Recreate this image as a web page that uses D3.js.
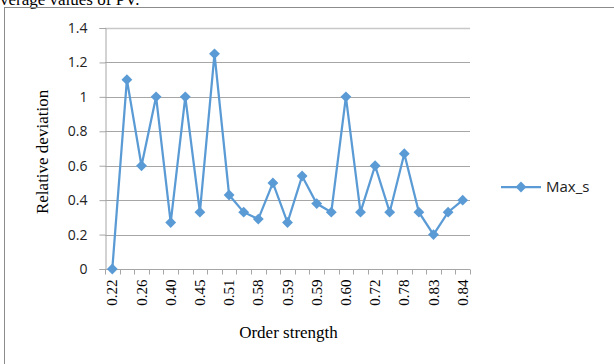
<!DOCTYPE html>
<html>
<head>
<meta charset="utf-8">
<script src="https://cdn.jsdelivr.net/npm/d3@7"></script>
<style>
  body { margin: 0; background: #fff; }
  svg { display: block; }
</style>
</head>
<body>
<div class="LineChart"></div>
<script>
// data
const strength = ["0.22", "0.24", "0.26", "0.33", "0.40", "0.43", "0.45", "0.48", "0.51", "0.55",
                  "0.58", "0.58", "0.59", "0.59", "0.59", "0.59", "0.60", "0.66", "0.72", "0.75",
                  "0.78", "0.80", "0.83", "0.83", "0.84"];
const maxS = [0, 1.1, 0.6, 1.0, 0.27, 1.0, 0.33, 1.25, 0.43, 0.33,
              0.29, 0.5, 0.27, 0.54, 0.38, 0.33, 1.0, 0.33, 0.6, 0.33,
              0.67, 0.33, 0.2, 0.33, 0.4];
const yTicks = [0, 0.2, 0.4, 0.6, 0.8, 1, 1.2, 1.4];
const seriesName = "Max_s";

const width = 614, height = 364;
const margin = { top: 28, right: 144, bottom: 95, left: 105 };
const blue = "#5b9bd5";

const svg = d3.select(".LineChart")
    .append("svg")
    .attr("width", width)
    .attr("height", height);

// cut-off caption above the chart
svg.append("text")
    .attr("x", 0)
    .attr("y", 5)
    .style("font-family", "Liberation Serif, serif")
    .style("font-size", "17px")
    .text("verage values of PV.");

// chart frame
svg.append("rect")
    .attr("x", 4.5)
    .attr("y", 7.5)
    .attr("width", 640)
    .attr("height", 400)
    .attr("fill", "none")
    .attr("stroke", "#8c8c8c")
    .attr("stroke-width", 1);

/* Scales */
const xScale = d3.scaleBand()
    .domain(d3.range(maxS.length))
    .range([margin.left, width - margin.right]);

const yScale = d3.scaleLinear()
    .domain([0, 1.4])
    .range([height - margin.bottom, margin.top]);

// gridlines
svg.append("g")
    .selectAll("line")
    .data(yTicks.slice(1))
    .enter()
    .append("line")
    .attr("x1", margin.left)
    .attr("x2", width - margin.right)
    .attr("y1", d => Math.round(yScale(d)) + 0.5)
    .attr("y2", d => Math.round(yScale(d)) + 0.5)
    .attr("stroke", d => d === 1.4 ? "#c8c8c8" : "#a6a6a6")
    .attr("stroke-width", d => d === 1.4 ? 1.5 : 1);

/* Axes */
// Y axis
const yAxis = svg.append("g")
    .attr("transform", `translate(${margin.left + 0.5},0)`)
    .call(d3.axisLeft(yScale).tickValues(yTicks).tickSize(6).tickFormat(d => d));
yAxis.select(".domain").attr("stroke", "#a6a6a6");
yAxis.selectAll(".tick line").attr("stroke", "#a6a6a6");
yAxis.selectAll(".tick text")
    .attr("x", -18)
    .style("font-family", "Open Sans, sans-serif")
    .style("font-size", "14px")
    .style("fill", "#222");

// X axis - ticks on band boundaries
const xBase = Math.round(yScale(0)) + 0.5;
svg.append("line")
    .attr("x1", margin.left)
    .attr("x2", width - margin.right)
    .attr("y1", xBase)
    .attr("y2", xBase)
    .attr("stroke", "#a6a6a6");
svg.append("g")
    .selectAll("line")
    .data(d3.range(maxS.length + 1))
    .enter()
    .append("line")
    .attr("x1", d => Math.round(margin.left + d * xScale.step()) + 0.5)
    .attr("x2", d => Math.round(margin.left + d * xScale.step()) + 0.5)
    .attr("y1", xBase)
    .attr("y2", xBase + 5)
    .attr("stroke", "#a6a6a6");

// rotated category labels, every second one
svg.append("g")
    .selectAll("text")
    .data(d3.range(0, maxS.length, 2))
    .enter()
    .append("text")
    .attr("transform", d => `translate(${xScale(d) + xScale.bandwidth() / 2 + 5},${xBase + 10}) rotate(-90)`)
    .attr("text-anchor", "end")
    .style("font-family", "Liberation Serif, serif")
    .style("font-size", "15px")
    .text(d => strength[d]);

// axis titles
svg.append("text")
    .attr("x", (margin.left + width - margin.right) / 2 + 1)
    .attr("y", 338)
    .attr("text-anchor", "middle")
    .style("font-family", "Liberation Serif, serif")
    .style("font-size", "17px")
    .text("Order strength");

svg.append("text")
    .attr("transform", `translate(48,${yScale(0.68)}) rotate(-90)`)
    .attr("text-anchor", "middle")
    .style("font-family", "Liberation Serif, serif")
    .style("font-size", "17px")
    .text("Relative deviation");

/* Line + markers */
const line = d3.line()
    .x((d, i) => xScale(i) + xScale.bandwidth() / 2)
    .y(d => yScale(d));

svg.append("path")
    .datum(maxS)
    .attr("fill", "none")
    .attr("stroke", blue)
    .attr("stroke-width", 2.25)
    .attr("d", line);

const diamond = d3.symbol().type(d3.symbolDiamond2).size(75);
svg.append("g")
    .selectAll("path")
    .data(maxS)
    .enter()
    .append("path")
    .attr("d", diamond)
    .attr("transform", (d, i) => `translate(${xScale(i) + xScale.bandwidth() / 2},${yScale(d)})`)
    .attr("fill", blue);

/* Legend */
const legend = svg.append("g").attr("transform", "translate(501,187)");
legend.append("line")
    .attr("x1", 0).attr("x2", 40)
    .attr("stroke", blue)
    .attr("stroke-width", 2.25);
legend.append("path")
    .attr("d", diamond)
    .attr("transform", "translate(20,0)")
    .attr("fill", blue);
legend.append("text")
    .attr("x", 45)
    .attr("y", 5)
    .style("font-family", "Open Sans, sans-serif")
    .style("font-size", "15px")
    .style("fill", "#222")
    .text(seriesName);
</script>
</body>
</html>
